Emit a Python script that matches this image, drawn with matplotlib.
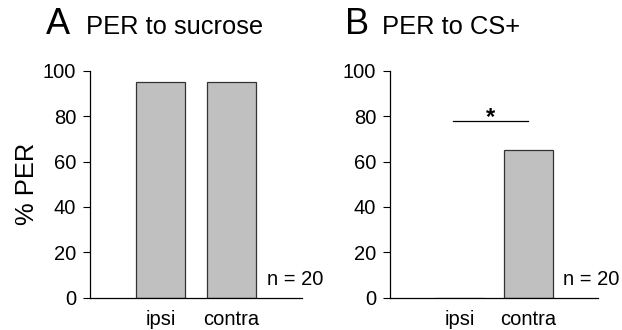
import matplotlib
matplotlib.use("Agg")
import matplotlib.pyplot as plt

plt.rcParams['font.family'] = ['Liberation Sans', 'DejaVu Sans']

categories = ["ipsi", "contra"]
sucrose_values = [95, 95]
cs_values = [0, 65]
yticks = [0, 20, 40, 60, 80, 100]
panel_letters = ["A", "B"]
panel_titles = ["PER to sucrose", "PER to CS+"]
n_label = "n = 20"

W, H = 622, 330
fig = plt.figure(figsize=(W/100, H/100), dpi=100)
axA = fig.add_axes([90/W, 1-297.7/H, 212/W, 227/H])
axB = fig.add_axes([390/W, 1-297.7/H, 208/W, 227/H])

for ax, vals, letter, title, lx, tx in zip([axA, axB], [sucrose_values, cs_values],
                                           panel_letters, panel_titles,
                                           [45.5, 345], [86, 382.5]):
    x = list(range(len(categories)))
    ax.bar(x, vals, width=0.7, color="#c0c0c0", edgecolor="#333333", linewidth=0.9)
    ax.set_xlim(-1, 2)
    ax.set_ylim(0, 100)
    ax.set_xticks(x)
    ax.set_xticklabels(categories, fontsize=14.5)
    ax.tick_params(axis='x', length=0, pad=9)
    ax.set_yticks(yticks)
    ax.tick_params(axis='y', labelsize=14.5, length=5, width=0.8, pad=5)
    for s in ["top", "right"]:
        ax.spines[s].set_visible(False)
    for s in ["left", "bottom"]:
        ax.spines[s].set_linewidth(0.9)
    ax.text(1.5, 8, n_label, fontsize=14.5, ha="left", va="center")
    fig.text(lx/W, 1-34.3/H, letter, fontsize=26, ha="left", va="baseline")
    fig.text(tx/W, 1-34.3/H, title, fontsize=18.4, ha="left", va="baseline")

axA.set_ylabel("% PER", fontsize=18.4, labelpad=3)

axB.plot([-0.09, 0.99], [77.7, 77.7], color="black", linewidth=0.9)
axB.text(0.45, 76.5, "*", fontsize=17, fontweight="bold", ha="center", va="baseline")

fig.savefig("out.png", dpi=100)
